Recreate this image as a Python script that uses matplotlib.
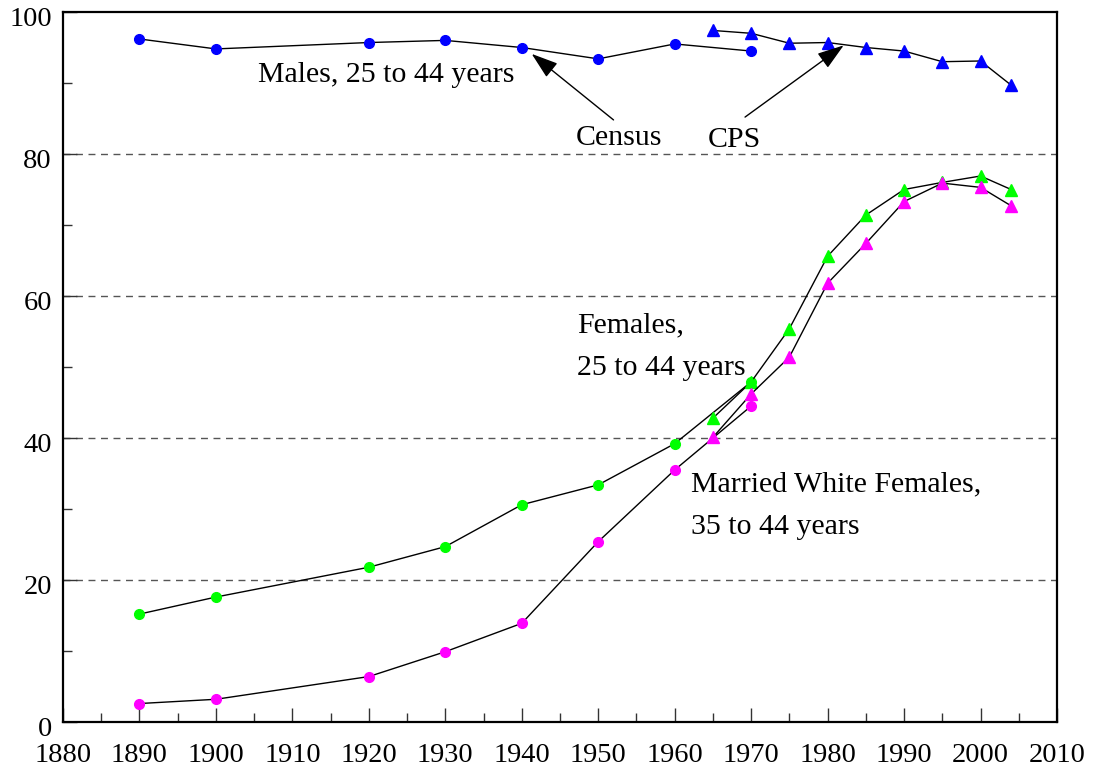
import matplotlib
matplotlib.use("Agg")
import matplotlib.pyplot as plt
import matplotlib.transforms as transforms
from matplotlib.ticker import MultipleLocator

plt.rcParams['font.family'] = ['Liberation Serif', 'DejaVu Serif']

# Census (circles)
census_years = [1890, 1900, 1920, 1930, 1940, 1950, 1960, 1970]
males_census = [96.2, 94.8, 95.7, 96.0, 95.0, 93.4, 95.5, 94.5]
females_census = [15.2, 17.6, 21.8, 24.7, 30.6, 33.4, 39.2, 47.9]
married_census = [2.6, 3.2, 6.4, 9.9, 13.9, 25.4, 35.5, 44.5]

# CPS (triangles)
cps_years = [1965, 1970, 1975, 1980, 1985, 1990, 1995, 2000, 2004]
males_cps = [97.4, 97.0, 95.6, 95.7, 95.0, 94.5, 93.0, 93.1, 89.7]
females_cps = [42.8, 47.9, 55.4, 65.6, 71.4, 75.0, 76.0, 76.9, 75.0]
married_cps = [40.1, 46.2, 51.4, 61.8, 67.4, 73.3, 75.9, 75.3, 72.7]

fig = plt.figure(figsize=(10.94, 7.71), dpi=100)
ax = fig.add_axes([63 / 1094, 49 / 771, 994 / 1094, 710 / 771])

series = [(males_census, males_cps, '#0000ff'),
          (females_census, females_cps, '#00ff00'),
          (married_census, married_cps, '#ff00ff')]
for cen, cps, col in series:
    ax.plot(census_years, cen, color='black', lw=1.0, marker='o', ms=7,
            mfc=col, mec=col, zorder=3)
    ax.plot(cps_years, cps, color='black', lw=1.0, marker='^', ms=8,
            mfc=col, mec=col, zorder=3)

ax.set_xlim(1880, 2010)
ax.set_ylim(0, 100)
ax.xaxis.set_major_locator(MultipleLocator(10))
ax.xaxis.set_minor_locator(MultipleLocator(5))
ax.yaxis.set_major_locator(MultipleLocator(20))
ax.yaxis.set_minor_locator(MultipleLocator(10))

for y in [20, 40, 60, 80]:
    ax.axhline(y, color='#555555', lw=1.0, ls=(0, (5, 4)), zorder=1)

ax.tick_params(which='major', direction='in', length=10, width=1.0,
               color='#333333', labelsize=20.5, pad=8)
ax.tick_params(axis='x', which='major', pad=15)
ax.tick_params(which='minor', direction='in', length=6.5, width=1.0,
               color='#333333')
for sp in ax.spines.values():
    sp.set_linewidth(1.6)

offset = transforms.ScaledTranslation(0, -0.05, fig.dpi_scale_trans)
for lab in ax.get_yticklabels():
    lab.set_transform(lab.get_transform() + offset)

fs = 21.5
ax.text(1905.5, 91.1, 'Males, 25 to 44 years', fontsize=fs, va='center')
ax.text(1947.0, 82.2, 'Census', fontsize=fs, va='center')
ax.text(1964.3, 82.0, 'CPS', fontsize=fs, va='center')
ax.text(1947.2, 55.9, 'Females,', fontsize=fs, va='center')
ax.text(1947.2, 49.8, '25 to 44 years', fontsize=fs, va='center')
ax.text(1962.1, 33.5, 'Married White Females,', fontsize=fs, va='center')
ax.text(1962.1, 27.4, '35 to 44 years', fontsize=fs, va='center')

arrow = dict(arrowstyle='-|>,head_length=0.75,head_width=0.25',
             color='black', lw=1.0, mutation_scale=22, shrinkA=0, shrinkB=0)
ax.annotate('', xy=(1941.3, 94.1), xytext=(1952.0, 84.8), arrowprops=arrow)
ax.annotate('', xy=(1982.1, 95.3), xytext=(1969.2, 85.2), arrowprops=arrow)

fig.savefig('out.png', dpi=100)
